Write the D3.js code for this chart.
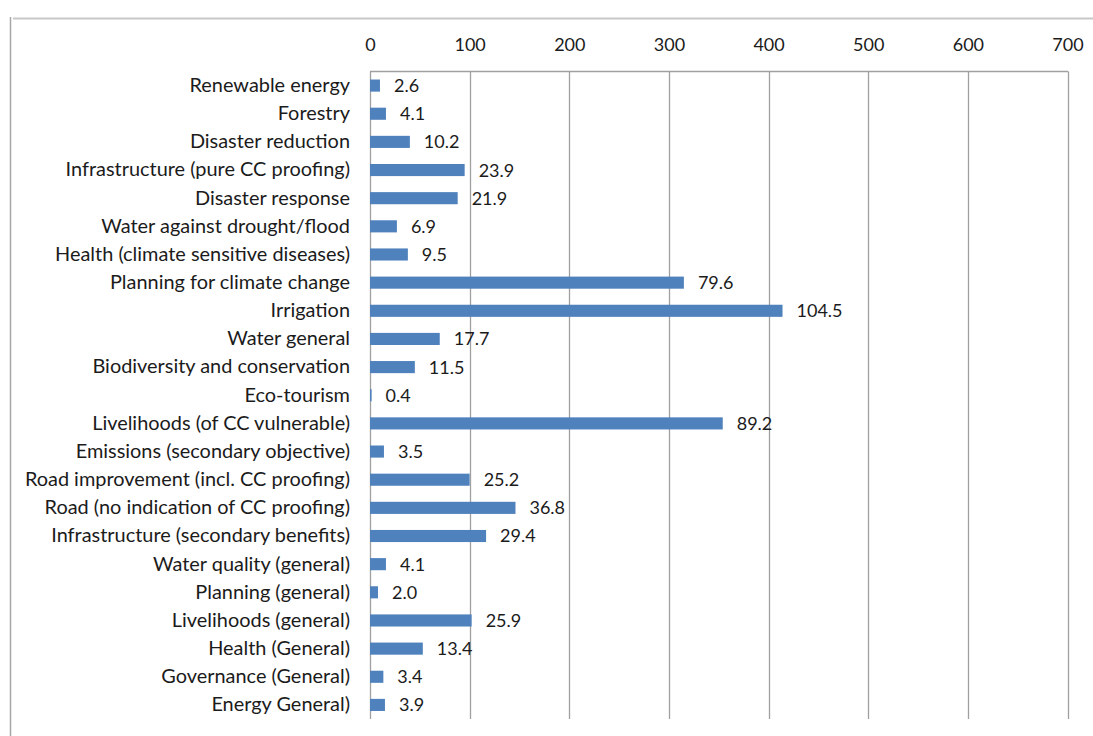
<!DOCTYPE html>
<html>
<head>
<meta charset="utf-8">
<script src="https://cdn.jsdelivr.net/npm/d3@7"></script>
<style>
  html, body { margin: 0; padding: 0; background: #fff; }
  svg { display: block; }
  text { font-family: Lato, "Open Sans", sans-serif; fill: #1b1b1b; }
</style>
</head>
<body>
<svg id="chart" width="1093" height="736"></svg>
<script>
const categories = [
  "Renewable energy",
  "Forestry",
  "Disaster reduction",
  "Infrastructure (pure CC proofing)",
  "Disaster response",
  "Water against drought/flood",
  "Health (climate sensitive diseases)",
  "Planning for climate change",
  "Irrigation",
  "Water general",
  "Biodiversity and conservation",
  "Eco-tourism",
  "Livelihoods (of CC vulnerable)",
  "Emissions (secondary objective)",
  "Road improvement (incl. CC proofing)",
  "Road (no indication of CC proofing)",
  "Infrastructure (secondary benefits)",
  "Water quality (general)",
  "Planning (general)",
  "Livelihoods (general)",
  "Health (General)",
  "Governance (General)",
  "Energy General)"
];
// bar lengths read against the 0-700 axis
const barValues = [10, 16, 40, 95, 88, 27, 38, 315, 414, 70, 45, 1.6, 354, 14, 100, 146, 116.5, 16, 8, 102, 53, 13.4, 15];
// data label texts as printed
const labelValues = ["2.6", "4.1", "10.2", "23.9", "21.9", "6.9", "9.5", "79.6", "104.5", "17.7", "11.5", "0.4", "89.2", "3.5", "25.2", "36.8", "29.4", "4.1", "2.0", "25.9", "13.4", "3.4", "3.9"];
const tickValues = [0, 100, 200, 300, 400, 500, 600, 700];

const svg = d3.select("#chart");

// outer frame
svg.append("line").attr("x1", 10.5).attr("x2", 10.5).attr("y1", 17).attr("y2", 736)
  .attr("stroke", "#a6a6a6").attr("stroke-width", 1.5);
svg.append("line").attr("x1", 13).attr("x2", 1093).attr("y1", 18.5).attr("y2", 18.5)
  .attr("stroke", "#c8c8c8").attr("stroke-width", 2);

const x0 = 370, x1 = 1067.5, yTop = 71.5, yBot = 719;
const x = d3.scaleLinear().domain([0, 700]).range([x0, x1]);
const y = d3.scaleBand().domain(categories).range([yTop, yBot]).paddingInner(0.57).paddingOuter(0.285);

// gridlines
svg.append("g").selectAll("line").data(tickValues).join("line")
  .attr("x1", d => Math.round(x(d)) + 0.5).attr("x2", d => Math.round(x(d)) + 0.5)
  .attr("y1", yTop).attr("y2", yBot)
  .attr("stroke", "#a0a0a0").attr("stroke-width", 1.3);
svg.append("line").attr("x1", x0).attr("x2", x1 + 0.5).attr("y1", yTop).attr("y2", yTop)
  .attr("stroke", "#a0a0a0").attr("stroke-width", 1.3);

// top axis tick labels
const axis = d3.axisTop(x).tickValues(tickValues).tickSize(0).tickPadding(0).tickFormat(d3.format("d"));
const ax = svg.append("g").attr("transform", `translate(0, 50.5)`).call(axis);
ax.select(".domain").remove();
ax.selectAll("text").attr("font-size", 18).attr("font-family", "Lato, 'Open Sans', sans-serif").attr("fill", "#1b1b1b");

// bars
svg.append("g").selectAll("rect").data(categories).join("rect")
  .attr("x", x(0))
  .attr("y", d => y(d))
  .attr("width", (d, i) => x(barValues[i]) - x(0))
  .attr("height", y.bandwidth())
  .attr("fill", "#4f81bd");

// category labels
const yAxis = d3.axisLeft(y).tickSize(0).tickPadding(20);
const ya = svg.append("g").attr("transform", `translate(${x0}, 0)`).call(yAxis);
ya.select(".domain").remove();
const catFont = "'Open Sans', sans-serif";
const catText = ya.selectAll("text").attr("font-family", catFont).attr("font-size", 16).attr("fill", "#1b1b1b");
// fit the longest label width to the reference (~295px)
const probe = catText.filter(d => d === "Health (climate sensitive diseases)").node();
const w = probe.getComputedTextLength();
const fs = 16 * 295 / w;
catText.attr("font-size", fs.toFixed(2));

// data labels
svg.append("g").selectAll("text").data(categories).join("text")
  .attr("x", (d, i) => x(barValues[i]) + 14)
  .attr("y", d => y(d) + y.bandwidth() / 2)
  .attr("dy", "0.36em")
  .attr("font-size", 18)
  .text((d, i) => labelValues[i]);
</script>
</body>
</html>
